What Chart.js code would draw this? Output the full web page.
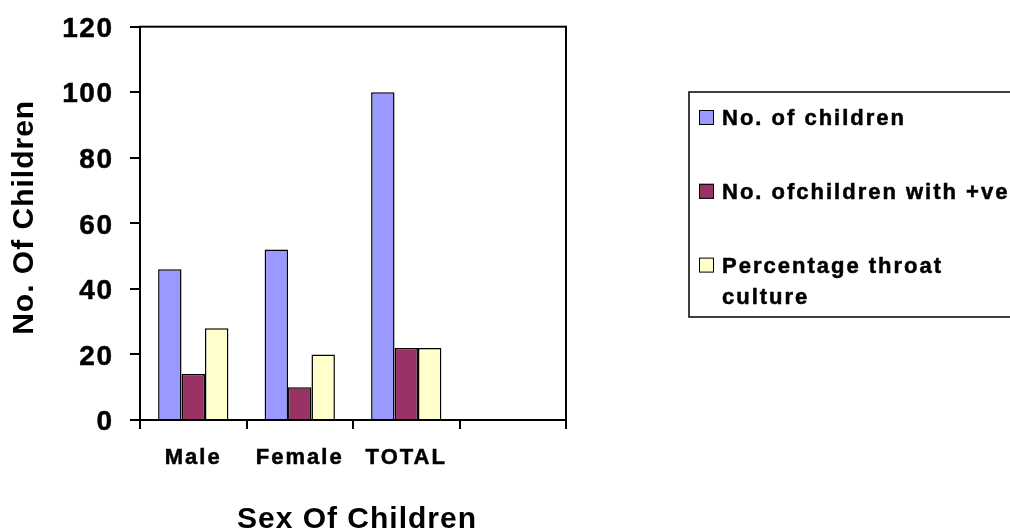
<!DOCTYPE html>
<html>
<head>
<meta charset="utf-8">
<script src="https://cdn.jsdelivr.net/npm/chart.js@4.4.1/dist/chart.umd.min.js"></script>
<style>
  html, body { margin: 0; padding: 0; background: #ffffff; }
  canvas { display: block; }
</style>
</head>
<body>
<canvas id="chart" width="1010" height="531"></canvas>
<script>
// Categories along the x axis (the last slot is left empty)
const categories = ['Male', 'Female', 'TOTAL', ''];

// Series values per category
const childrenCount = [46, 52, 100, null];
const positiveCount = [14, 10, 22, null];
const throatCulturePct = [28, 20, 22, null];

// Series names, split into the lines shown in the legend
const childrenLines = ['No. of children'];
const positiveLines = ['No. ofchildren with +ve'];
const throatLines = ['Percentage throat', 'culture'];

// Y axis tick values
const yTicks = [0, 20, 40, 60, 80, 100, 120];

const seriesColors = ['#9999FF', '#993366', '#FFFFCC'];
const FONT = "'Liberation Sans', Arial, Helvetica, sans-serif";

// Letter spacing per scale for tick labels and titles, plus a small title nudge
const tickSpacing = { x: '2px', y: '1.5px' };
const titleSpacing = '1px';
const titleShift = { x: [4, 1], y: [2, -6] };

function withSpacing(fn, spacing, shift) {
  return function (...args) {
    const c = this.ctx;
    const prev = c.letterSpacing;
    c.save();
    if (shift) c.translate(shift[0], shift[1]);
    c.letterSpacing = spacing;
    try { return fn.apply(this, args); } finally { c.restore(); c.letterSpacing = prev; }
  };
}

const spacingPlugin = {
  id: 'spacing',
  beforeDraw(chart) {
    Object.values(chart.scales).forEach(s => {
      if (s._spaced) return;
      s.drawLabels = withSpacing(s.drawLabels, tickSpacing[s.id] || '0px', null);
      s.drawTitle = withSpacing(s.drawTitle, titleSpacing, titleShift[s.id]);
      s._spaced = true;
    });
  }
};

// Black frame around the plot area
const framePlugin = {
  id: 'frame',
  afterDraw(chart) {
    const { ctx, chartArea: a } = chart;
    ctx.save();
    ctx.strokeStyle = '#000';
    ctx.lineWidth = 2;
    ctx.strokeRect(a.left, a.top, a.right - a.left, a.bottom - a.top);
    ctx.restore();
  }
};

// Boxed legend to the right of the plot
const boxLegendPlugin = {
  id: 'boxLegend',
  afterDraw(chart) {
    const ctx = chart.ctx;
    const box = { left: 689, top: 92, right: 1040, bottom: 317 };
    ctx.save();
    ctx.letterSpacing = '2px';
    ctx.strokeStyle = '#000';
    ctx.lineWidth = 1.5;
    ctx.strokeRect(box.left, box.top, box.right - box.left, box.bottom - box.top);
    ctx.font = `bold 22px ${FONT}`;
    ctx.textAlign = 'left';
    ctx.textBaseline = 'alphabetic';
    const firstBaseline = 125;
    const rowStep = 73.8;
    const lineStep = 31;
    chart.data.datasets.forEach((ds, i) => {
      const baseline = firstBaseline + i * rowStep;
      ctx.fillStyle = ds.backgroundColor;
      ctx.fillRect(699, baseline - 15, 15, 15);
      ctx.lineWidth = 1;
      ctx.strokeStyle = '#000';
      ctx.strokeRect(699.5, baseline - 14.5, 14, 14);
      ctx.fillStyle = '#000';
      ctx.lineWidth = 0.5;
      ds.legendLines.forEach((line, j) => {
        const y = baseline + j * lineStep;
        ctx.fillText(line, 722, y);
        ctx.strokeText(line, 722, y);
      });
    });
    ctx.restore();
  }
};

const makeSet = (lines, data, color) => ({
  label: lines.join(' '),
  legendLines: lines,
  data: data,
  backgroundColor: color,
  borderColor: '#000000',
  borderWidth: 1.5,
  categoryPercentage: 0.66,
  barPercentage: 1.0
});

new Chart(document.getElementById('chart'), {
  type: 'bar',
  data: {
    labels: categories,
    datasets: [
      makeSet(childrenLines, childrenCount, seriesColors[0]),
      makeSet(positiveLines, positiveCount, seriesColors[1]),
      makeSet(throatLines, throatCulturePct, seriesColors[2])
    ]
  },
  options: {
    responsive: false,
    animation: false,
    devicePixelRatio: 1,
    layout: { padding: { top: 26.7, right: 444, bottom: 0, left: 0 } },
    plugins: {
      legend: { display: false },
      tooltip: { enabled: false }
    },
    scales: {
      x: {
        afterFit(scale) {
          scale.height = 111;
          scale.paddingLeft = 0;
          scale.paddingRight = 0;
        },
        grid: {
          offset: true,
          drawOnChartArea: false,
          drawTicks: true,
          tickLength: 9,
          color: '#000',
          lineWidth: 2
        },
        border: { display: true, color: '#000', width: 2 },
        ticks: {
          color: '#000',
          font: { family: FONT, size: 22, weight: 'bold' },
          padding: 16,
          maxRotation: 0,
          autoSkip: false,
          textStrokeColor: '#000',
          textStrokeWidth: 0.5
        },
        title: {
          display: true,
          text: 'Sex Of Children',
          color: '#000',
          font: { family: FONT, size: 30, weight: 'bold', lineHeight: 1 },
          padding: { top: 0, bottom: -3 }
        }
      },
      y: {
        min: 0,
        max: 120,
        afterFit(scale) {
          scale.width = 140;
          scale.paddingTop = 0;
          scale.paddingBottom = 0;
        },
        afterBuildTicks(scale) { scale.ticks = yTicks.map(v => ({ value: v })); },
        grid: {
          drawOnChartArea: false,
          drawTicks: true,
          tickLength: 10,
          color: '#000',
          lineWidth: 2
        },
        border: { display: true, color: '#000', width: 2 },
        ticks: {
          color: '#000',
          font: { family: FONT, size: 28, weight: 'bold' },
          padding: 16.5,
          labelOffset: 2.5,
          textStrokeColor: '#000',
          textStrokeWidth: 0.5
        },
        title: {
          display: true,
          text: 'No. Of Children',
          color: '#000',
          font: { family: FONT, size: 30, weight: 'bold', lineHeight: 1.2 },
          padding: { top: 5, bottom: 0 }
        }
      }
    }
  },
  plugins: [spacingPlugin, framePlugin, boxLegendPlugin]
});
</script>
</body>
</html>
